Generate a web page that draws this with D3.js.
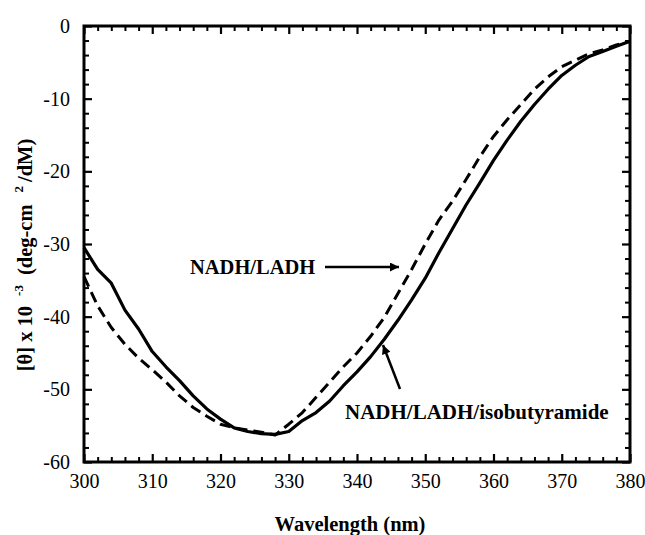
<!DOCTYPE html>
<html>
<head>
<meta charset="utf-8">
<script src="https://cdn.jsdelivr.net/npm/d3@7"></script>
<style>
  html, body { margin: 0; padding: 0; background: #fff; }
  svg { display: block; }
</style>
</head>
<body>
<svg id="chart" width="645" height="535"></svg>
<script>
// ---- data ----
const wavelengths = [300,302,304,306,308,310,312,314,316,318,320,322,324,326,328,330,332,334,336,338,340,342,344,346,348,350,352,354,356,358,360,362,364,366,368,370,372,374,376,378,380];
const isobutyramide = [-30.5,-33.5,-35.4,-39.1,-41.7,-44.8,-46.9,-48.8,-50.9,-52.7,-54.1,-55.3,-55.8,-56.1,-56.2,-55.8,-54.3,-53.2,-51.6,-49.5,-47.6,-45.5,-43.1,-40.5,-37.7,-34.7,-31.2,-27.9,-24.6,-21.6,-18.5,-15.7,-13.1,-10.8,-8.7,-6.8,-5.4,-4.2,-3.5,-2.8,-2.1];
const nadhLadh = [-34.5,-38.5,-41.5,-43.8,-45.7,-47.3,-49.0,-50.9,-52.5,-53.7,-54.8,-55.3,-55.6,-55.9,-56.3,-54.8,-53.2,-51.1,-49.0,-46.9,-45.0,-42.7,-40.1,-36.8,-33.5,-30.0,-26.7,-24.1,-21.1,-18.0,-15.2,-12.9,-10.8,-8.7,-7.0,-5.6,-4.7,-3.8,-3.3,-2.6,-2.1];
const xMajorTicks = [300,310,320,330,340,350,360,370,380];
const yMajorTicks = [0,-10,-20,-30,-40,-50,-60];
const xMinorTicks = d3.range(300, 381, 2).filter(v => v % 10 !== 0);
const yMinorTicks = d3.range(0, -61, -2).filter(v => v % 10 !== 0);
const seriesLabels = ["NADH/LADH", "NADH/LADH/isobutyramide"];

const FONT = "'Liberation Serif', Tinos, 'Times New Roman', Times, 'DejaVu Serif', serif";

// ---- layout ----
const L = 84, R = 630, T = 26, B = 462;
const svg = d3.select("#chart");
const x = d3.scaleLinear().domain([300, 380]).range([L, R]);
const y = d3.scaleLinear().domain([-60, 0]).range([B, T]);

svg.append("defs").append("marker")
  .attr("id", "ah").attr("viewBox", "0 0 10 10").attr("refX", 10).attr("refY", 5)
  .attr("markerWidth", 14).attr("markerHeight", 9).attr("markerUnits", "userSpaceOnUse")
  .attr("orient", "auto")
  .append("path").attr("d", "M0,0 L10,5 L0,10 Z").attr("fill", "#000");

function styleAxis(g, w) {
  g.attr("font-family", FONT);
  g.select(".domain").remove();
  g.selectAll(".tick line").attr("stroke", "#000").attr("stroke-width", w);
}

// major ticks with labels
const gx = svg.append("g").attr("transform", `translate(0,${B})`)
  .call(d3.axisBottom(x).tickValues(xMajorTicks).tickSize(-8).tickSizeOuter(0).tickPadding(12).tickFormat(d3.format("d")));
styleAxis(gx, 2.2);
gx.selectAll("text").attr("font-size", 20).style("font-family", FONT);

const gy = svg.append("g").attr("transform", `translate(${L},0)`)
  .call(d3.axisLeft(y).tickValues(yMajorTicks).tickSize(-8).tickSizeOuter(0).tickPadding(14).tickFormat(d => d3.format("d")(d).replace("−", "-")));
styleAxis(gy, 2.2);
gy.selectAll("text").attr("font-size", 20).style("font-family", FONT);

// top / right major ticks
styleAxis(svg.append("g").attr("transform", `translate(0,${T})`)
  .call(d3.axisTop(x).tickValues(xMajorTicks).tickSize(-8).tickSizeOuter(0).tickFormat("")), 2.2);
styleAxis(svg.append("g").attr("transform", `translate(${R},0)`)
  .call(d3.axisRight(y).tickValues(yMajorTicks).tickSize(-8).tickSizeOuter(0).tickFormat("")), 2.2);

// minor ticks on all four sides
styleAxis(svg.append("g").attr("transform", `translate(0,${B})`)
  .call(d3.axisBottom(x).tickValues(xMinorTicks).tickSize(-5).tickSizeOuter(0).tickFormat("")), 2);
styleAxis(svg.append("g").attr("transform", `translate(0,${T})`)
  .call(d3.axisTop(x).tickValues(xMinorTicks).tickSize(-5).tickSizeOuter(0).tickFormat("")), 2);
styleAxis(svg.append("g").attr("transform", `translate(${L},0)`)
  .call(d3.axisLeft(y).tickValues(yMinorTicks).tickSize(-5).tickSizeOuter(0).tickFormat("")), 2);
styleAxis(svg.append("g").attr("transform", `translate(${R},0)`)
  .call(d3.axisRight(y).tickValues(yMinorTicks).tickSize(-5).tickSizeOuter(0).tickFormat("")), 2);

// frame
svg.append("rect").attr("x", L).attr("y", T).attr("width", R - L).attr("height", B - T)
  .attr("fill", "none").attr("stroke", "#000").attr("stroke-width", 3);

// curves
const line = d3.line().x((d, i) => x(wavelengths[i])).y(d => y(d));
svg.append("path").datum(nadhLadh).attr("d", line)
  .attr("fill", "none").attr("stroke", "#000").attr("stroke-width", 3)
  .attr("stroke-dasharray", "11,6").attr("stroke-linejoin", "round");
svg.append("path").datum(isobutyramide).attr("d", line)
  .attr("fill", "none").attr("stroke", "#000").attr("stroke-width", 3.2)
  .attr("stroke-linejoin", "round");

// annotations
const ann = svg.append("g").style("font-family", FONT).attr("font-size", 20.5).attr("font-weight", "bold");
ann.append("text").attr("x", 190).attr("y", 274).text(seriesLabels[0]);
svg.append("line").attr("x1", 325).attr("y1", 267).attr("x2", 399).attr("y2", 267)
  .attr("stroke", "#000").attr("stroke-width", 2.5).attr("marker-end", "url(#ah)");

ann.append("text").attr("x", 345).attr("y", 419).attr("font-size", 21).text(seriesLabels[1]);
svg.append("line").attr("x1", 400).attr("y1", 389).attr("x2", 383).attr("y2", 345)
  .attr("stroke", "#000").attr("stroke-width", 2.5).attr("marker-end", "url(#ah)");

// axis titles
ann.append("text").attr("x", 350).attr("y", 531).attr("text-anchor", "middle").text("Wavelength (nm)");

const yt = ann.append("text").attr("transform", "translate(32,255) rotate(-90)")
  .attr("text-anchor", "middle");
yt.append("tspan").text("[θ] x 10");
yt.append("tspan").attr("font-size", 13).attr("dx", 10).attr("dy", -9).text("-3");
yt.append("tspan").attr("dx", 10).attr("dy", 9).text("(deg-cm");
yt.append("tspan").attr("font-size", 13).attr("dx", 12).attr("dy", -9).text("2");
yt.append("tspan").attr("dx", 4).attr("dy", 9).text("/dM)");
</script>
</body>
</html>
